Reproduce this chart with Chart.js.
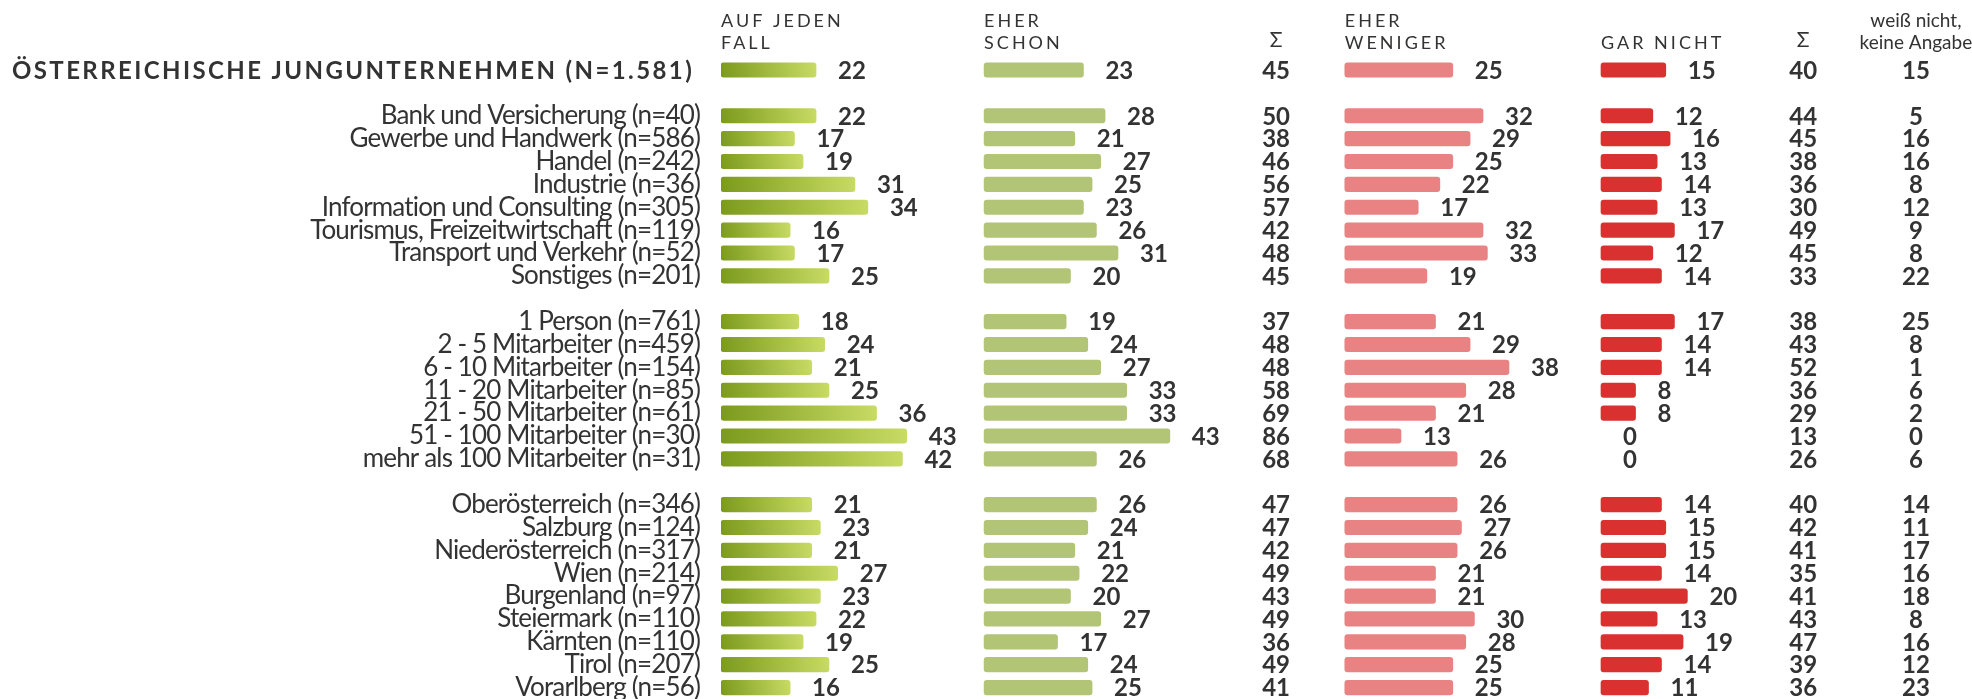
<!DOCTYPE html>
<html lang="de">
<head>
<meta charset="UTF-8">
<title>Junguntemehmen</title>
<script src="https://cdn.jsdelivr.net/npm/chart.js@4.4.1/dist/chart.umd.min.js"></script>
<style>
  body { margin: 0; background: #fff; }
</style>
</head>
<body>
<canvas id="chart" width="1972" height="699"></canvas>
<script>
var categories = [
  'ÖSTERREICHISCHE JUNGUNTERNEHMEN (N=1.581)', '',
  'Bank und Versicherung (n=40)', 'Gewerbe und Handwerk (n=586)', 'Handel (n=242)', 'Industrie (n=36)',
  'Information und Consulting (n=305)', 'Tourismus, Freizeitwirtschaft (n=119)', 'Transport und Verkehr (n=52)',
  'Sonstiges (n=201)', '',
  '1 Person (n=761)', '2 - 5 Mitarbeiter (n=459)', '6 - 10 Mitarbeiter (n=154)', '11 - 20 Mitarbeiter (n=85)',
  '21 - 50 Mitarbeiter (n=61)', '51 - 100 Mitarbeiter (n=30)', 'mehr als 100 Mitarbeiter (n=31)', '',
  'Oberösterreich (n=346)', 'Salzburg (n=124)', 'Niederösterreich (n=317)', 'Wien (n=214)', 'Burgenland (n=97)',
  'Steiermark (n=110)', 'Kärnten (n=110)', 'Tirol (n=207)', 'Vorarlberg (n=56)'
];
var aufJedenFall = [22, null, 22, 17, 19, 31, 34, 16, 17, 25, null, 18, 24, 21, 25, 36, 43, 42, null, 21, 23, 21, 27, 23, 22, 19, 25, 16];
var eherSchon    = [23, null, 28, 21, 27, 25, 23, 26, 31, 20, null, 19, 24, 27, 33, 33, 43, 26, null, 26, 24, 21, 22, 20, 27, 17, 24, 25];
var summeJa      = [45, null, 50, 38, 46, 56, 57, 42, 48, 45, null, 37, 48, 48, 58, 69, 86, 68, null, 47, 47, 42, 49, 43, 49, 36, 49, 41];
var eherWeniger  = [25, null, 32, 29, 25, 22, 17, 32, 33, 19, null, 21, 29, 38, 28, 21, 13, 26, null, 26, 27, 26, 21, 21, 30, 28, 25, 25];
var garNicht     = [15, null, 12, 16, 13, 14, 13, 17, 12, 14, null, 17, 14, 14, 8, 8, 0, 0, null, 14, 15, 15, 14, 20, 13, 19, 14, 11];
var summeNein    = [40, null, 44, 45, 38, 36, 30, 49, 45, 33, null, 38, 43, 52, 36, 29, 13, 26, null, 40, 42, 41, 35, 41, 43, 47, 39, 36];
var weissNicht   = [15, null, 5, 16, 16, 8, 12, 9, 8, 22, null, 25, 8, 1, 6, 2, 0, 6, null, 14, 11, 17, 16, 18, 8, 16, 12, 23];

var headers = [['AUF JEDEN', 'FALL'], ['EHER', 'SCHON'], ['EHER', 'WENIGER'], ['', 'GAR NICHT']];

// column layout in x-scale units (1 unit = 1 percentage point)
var PX_PER_UNIT = 4.32;
var AREA_LEFT = 721;
var XMAX = (1972 - AREA_LEFT) / PX_PER_UNIT;
var colStart = [0, 60.9, 144.4, 203.7];
var sumJaX = 128.5, sumNeinX = 250.5, weissX = 276.6;
var textColor = '#333333';

function floating(values, off) {
  return values.map(function (v) { return v ? [off, off + v] : null; });
}

function greenGradient(ctx) {
  var chart = ctx.chart;
  if (!chart.chartArea || ctx.raw == null) return '#a6bf3e';
  var xs = chart.scales.x, ys = chart.scales.y;
  var x0 = xs.getPixelForValue(ctx.raw[0]);
  var x1 = xs.getPixelForValue(ctx.raw[1]);
  var y = ys.getPixelForValue(ctx.dataIndex);
  var g = chart.ctx.createLinearGradient(x0, y + 7, x1, y - 7);
  g.addColorStop(0, '#7b9a1c');
  g.addColorStop(1, '#c8db64');
  return g;
}

var series = [aufJedenFall, eherSchon, eherWeniger, garNicht];

var textPlugin = {
  id: 'tableText',
  beforeDraw: function (chart) {
    // tighter category labels like the original
    chart.ctx.letterSpacing = '-0.85px';
  },
  afterDraw: function (chart) {
    var c = chart.ctx, xs = chart.scales.x, ys = chart.scales.y;
    c.save();
    c.fillStyle = textColor;
    c.textBaseline = 'middle';

    // title row label
    c.font = 'bold 24px Lato';
    c.letterSpacing = '2.4px';
    c.textAlign = 'left';
    c.fillText(categories[0], 12, ys.getPixelForValue(0) + 1);

    // column headers
    c.textBaseline = 'alphabetic';
    c.font = '18px Lato';
    c.letterSpacing = '3px';
    headers.forEach(function (h, k) {
      var x = xs.getPixelForValue(colStart[k]);
      c.fillText(h[0], x, 27);
      c.fillText(h[1], x, 49);
    });
    c.letterSpacing = '0px';
    c.textAlign = 'center';
    c.font = '21px Lato';
    c.fillText('Σ', xs.getPixelForValue(sumJaX), 47);
    c.fillText('Σ', xs.getPixelForValue(sumNeinX), 47);
    c.font = '19px Lato';
    c.fillText('weiß nicht,', xs.getPixelForValue(weissX), 27);
    c.fillText('keine Angabe', xs.getPixelForValue(weissX), 49);

    // values
    c.textBaseline = 'middle';
    c.font = 'bold 24px Lato';
    for (var i = 0; i < categories.length; i++) {
      if (aufJedenFall[i] == null) continue;
      var y = ys.getPixelForValue(i) + 1;
      c.textAlign = 'left';
      series.forEach(function (s, k) {
        c.fillText(String(s[i]), xs.getPixelForValue(colStart[k] + s[i]) + 22, y);
      });
      c.textAlign = 'center';
      c.fillText(String(summeJa[i]), xs.getPixelForValue(sumJaX), y);
      c.fillText(String(summeNein[i]), xs.getPixelForValue(sumNeinX), y);
      c.fillText(String(weissNicht[i]), xs.getPixelForValue(weissX), y);
    }
    c.restore();
  }
};

var barDefaults = { grouped: false, barThickness: 14.5, borderRadius: 3, borderSkipped: false, borderWidth: 0 };

var config = {
  type: 'bar',
  data: {
    labels: categories,
    datasets: [
      Object.assign({ label: 'auf jeden Fall', data: floating(aufJedenFall, colStart[0]), backgroundColor: greenGradient }, barDefaults),
      Object.assign({ label: 'eher schon', data: floating(eherSchon, colStart[1]), backgroundColor: '#b2c476' }, barDefaults),
      Object.assign({ label: 'eher weniger', data: floating(eherWeniger, colStart[2]), backgroundColor: '#e88283' }, barDefaults),
      Object.assign({ label: 'gar nicht', data: floating(garNicht, colStart[3]), backgroundColor: '#d93030' }, barDefaults)
    ]
  },
  options: {
    responsive: false,
    animation: false,
    indexAxis: 'y',
    layout: { padding: { top: 58.6, right: 0, bottom: 0, left: 0 } },
    plugins: { legend: { display: false }, tooltip: { enabled: false } },
    scales: {
      x: { type: 'linear', min: 0, max: XMAX, display: false },
      y: {
        grid: { display: false, drawTicks: false },
        border: { display: false },
        ticks: {
          autoSkip: false,
          padding: 21,
          color: textColor,
          font: { family: 'Lato', size: 26 },
          callback: function (v, i) { return i === 0 ? '' : categories[i]; }
        },
        afterFit: function (scale) {
          scale.width = AREA_LEFT;
          scale.paddingTop = 0;
          scale.paddingBottom = 0;
        }
      }
    }
  },
  plugins: [textPlugin]
};

var chart = new Chart(document.getElementById('chart'), config);
</script>
</body>
</html>
